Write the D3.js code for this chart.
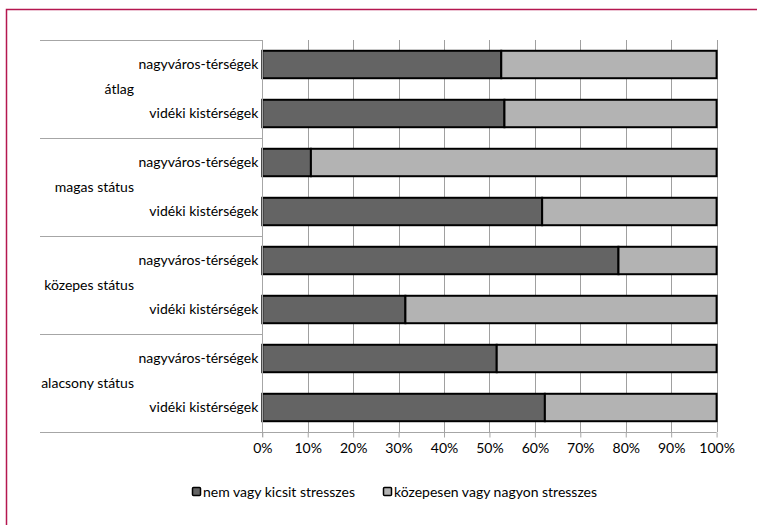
<!DOCTYPE html>
<html>
<head>
<meta charset="utf-8">
<script src="https://cdn.jsdelivr.net/npm/d3@7"></script>
<style>
  html, body { margin: 0; padding: 0; background: #fff; }
  svg { display: block; }
  text { font-family: Lato, "Open Sans", sans-serif; font-size: 14px; fill: #000; }
</style>
</head>
<body>
<script>
// ---- data ----
const groups = ["átlag", "magas státus", "közepes státus", "alacsony státus"];
const subcats = ["nagyváros-térségek", "vidéki kistérségek"];
const seriesNames = ["nem vagy kicsit stresszes", "közepesen vagy nagyon stresszes"];
const lowStress  = [52.6, 53.3, 10.7, 61.6, 78.4, 31.5, 51.6, 62.2];
const highStress = [47.4, 46.7, 89.3, 38.4, 21.6, 68.5, 48.4, 37.8];
const tickValues = [0, 10, 20, 30, 40, 50, 60, 70, 80, 90, 100];
const colors = ["#646464", "#b3b3b3"];

// ---- layout ----
const W = 757, H = 525;
const plot = { left: 262.3, right: 716.6, top: 40, bottom: 432 };
const labelLeft = 40;

const svg = d3.select("body").append("svg").attr("width", W).attr("height", H);

// outer border
svg.append("rect")
  .attr("x", 6.5).attr("y", 9.5).attr("width", W + 20).attr("height", H + 20)
  .attr("fill", "none").attr("stroke", "#b5174f").attr("stroke-width", 1.5);

const rows = [];
groups.forEach((g, gi) => subcats.forEach((s, si) => rows.push({ g, s, gi, si, key: gi + "-" + si })));

const x = d3.scaleLinear().domain([0, 100]).range([plot.left, plot.right]);
const y = d3.scaleBand().domain(rows.map(r => r.key)).range([plot.top, plot.bottom]).paddingInner(0.44).paddingOuter(0.22);
const yGroup = d3.scaleBand().domain(groups).range([plot.top, plot.bottom]);

// gridlines
svg.append("g").selectAll("line").data(tickValues.slice(1)).join("line")
  .attr("x1", d => Math.round(x(d)) + 0.5).attr("x2", d => Math.round(x(d)) + 0.5)
  .attr("y1", plot.top).attr("y2", plot.bottom)
  .attr("stroke", "#a0a0a0").attr("stroke-width", 1);

// group separator lines on the category side
svg.append("g").selectAll("line").data(d3.range(groups.length + 1)).join("line")
  .attr("x1", labelLeft).attr("x2", plot.left)
  .attr("y1", i => Math.round(plot.top + i * yGroup.step()) + 0.5)
  .attr("y2", i => Math.round(plot.top + i * yGroup.step()) + 0.5)
  .attr("stroke", "#a6a6a6").attr("stroke-width", 1);

// bars
const stacked = rows.map((r, i) => ({ r, vals: [lowStress[i], highStress[i]] }));
const barG = svg.append("g");
stacked.forEach(d => {
  let acc = 0;
  d.vals.forEach((v, si) => {
    barG.append("rect")
      .attr("x", x(acc)).attr("width", x(acc + v) - x(acc))
      .attr("y", y(d.r.key)).attr("height", y.bandwidth())
      .attr("fill", colors[si]).attr("stroke", "#000").attr("stroke-width", 2);
    acc += v;
  });
});

// x axis
const xAxis = d3.axisBottom(x).tickValues(tickValues).tickFormat(d => d + "%").tickSize(5).tickPadding(6);
const ax = svg.append("g").attr("transform", `translate(0,${plot.bottom + 0.5})`).call(xAxis);
ax.select(".domain").attr("stroke", "#a6a6a6").attr("d", `M${plot.left},0H${plot.right}`);
ax.selectAll(".tick line").attr("stroke", "#a6a6a6");
ax.selectAll(".tick text").style("font-family", "Lato, sans-serif").style("font-size", "14px").attr("fill", "#000");

// vertical axis line
svg.append("line").attr("x1", Math.round(plot.left) + 0.5).attr("x2", Math.round(plot.left) + 0.5)
  .attr("y1", plot.top).attr("y2", plot.bottom + 5).attr("stroke", "#a6a6a6");

// sub-category labels
svg.append("g").selectAll("text").data(rows).join("text")
  .attr("x", plot.left - 4).attr("y", d => y(d.key) + y.bandwidth() / 2)
  .attr("dy", "0.35em").attr("text-anchor", "end").text(d => d.s);

// group labels
svg.append("g").selectAll("text").data(groups).join("text")
  .attr("x", 134).attr("y", d => yGroup(d) + yGroup.bandwidth() / 2)
  .attr("dy", "0.35em").attr("text-anchor", "end").text(d => d);

// legend
const legendX = [192, 383];
const lg = svg.append("g").selectAll("g").data(seriesNames).join("g")
  .attr("transform", (d, i) => `translate(${legendX[i]},492)`);
lg.append("rect").attr("x", 0.5).attr("y", -4.5).attr("width", 8).attr("height", 8).attr("rx", 1)
  .attr("fill", (d, i) => colors[i]).attr("stroke", "#000").attr("stroke-width", 1.5);
lg.append("text").attr("x", 11).attr("y", 0).attr("dy", "0.35em").text(d => d);
</script>
</body>
</html>
